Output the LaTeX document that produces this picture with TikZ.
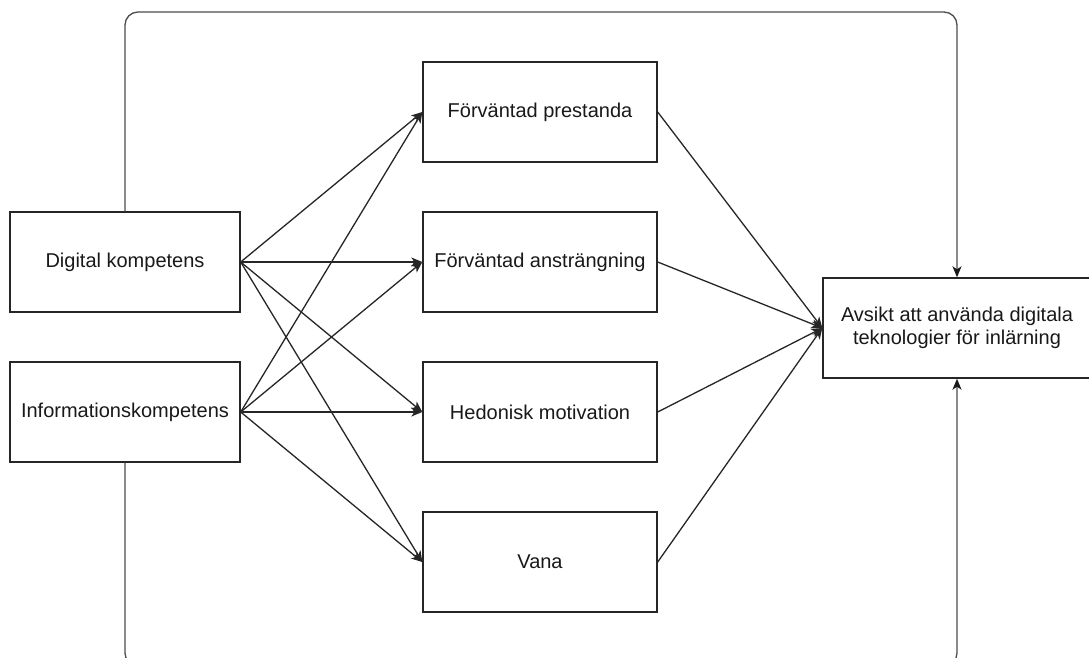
\documentclass[tikz,border=0pt]{standalone}
\usepackage{fontspec}
\setmainfont{Liberation Sans}
\usetikzlibrary{arrows.meta}
\begin{document}
\begin{tikzpicture}[x=1pt,y=-1pt,
  box/.style={draw=black!85, line width=1.4pt, fill=white, minimum width=230pt, minimum height=100pt, inner sep=0pt, align=center, font=\fontsize{20}{23.5}\selectfont, text=black!90},
  mbox/.style={box, minimum width=234pt},
  conn/.style={draw=black!85, line width=1.3pt, -{Stealth[length=11pt,width=9pt,inset=3pt]}},
  loop/.style={draw=black!70, line width=1.3pt, rounded corners=13pt, -{Stealth[length=11pt,width=9pt,inset=3pt,black!90]}}]
\clip (0,0) rectangle (1089,658);
\fill[white] (0,0) rectangle (1089,658);
\coordinate (tl) at (125,12);
\coordinate (tr) at (957,12);
\coordinate (bl) at (125,666);
\coordinate (br) at (957,666);
\node[box] (dk) at (125,262) {Digital kompetens};
\node[box] (ik) at (125,412) {Informationskompetens};
\node[mbox] (fp) at (540,112) {Förväntad prestanda};
\node[mbox] (fa) at (540,262) {Förväntad ansträngning};
\node[mbox] (hm) at (540,412) {Hedonisk motivation};
\node[mbox] (va) at (540,562) {Vana};
\node[box, minimum width=268pt] (av) at (957,328) {Avsikt att använda digitala\\teknologier för inlärning};
\draw[loop] (dk.north) -- (tl) -- (tr) -- (av.north);
\draw[loop] (ik.south) -- (bl) -- (br) -- (av.south);
\foreach \s in {dk,ik}{
  \foreach \t in {fp,fa,hm,va}{
    \draw[conn] (\s.east) -- (\t.west);
  }
}
\foreach \t in {fp,fa,hm,va}{
  \draw[conn] (\t.east) -- (av.west);
}
\end{tikzpicture}
\end{document}
